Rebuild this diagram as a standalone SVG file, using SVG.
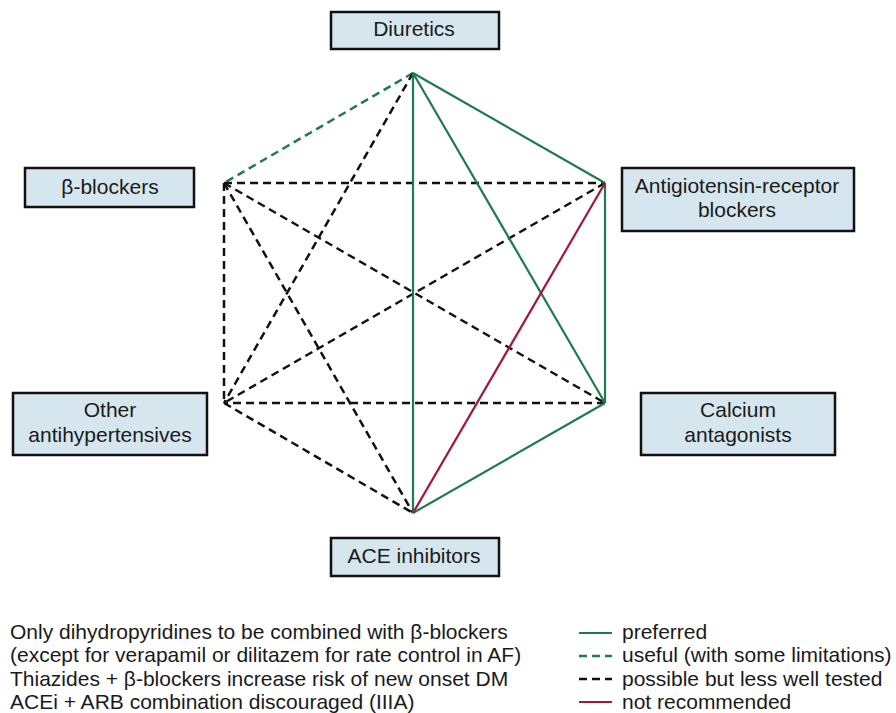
<svg xmlns="http://www.w3.org/2000/svg" width="896" height="713" viewBox="0 0 896 713">
  <style>
    .box { fill: #d5e6ee; stroke: #111; stroke-width: 2.5; }
    .lbl { font-family: "Liberation Sans", Arial, sans-serif; font-size: 21px; fill: #1a1a1a; text-anchor: middle; }
    .note { font-family: "Liberation Sans", Arial, sans-serif; font-size: 21px; fill: #1a1a1a; }
    .pref { stroke: #1f7a4c; stroke-width: 2.2; fill: none; }
    .useful { stroke: #1f7a4c; stroke-width: 2.5; stroke-dasharray: 8 5; fill: none; }
    .poss { stroke: #111; stroke-width: 2.5; stroke-dasharray: 8 5; fill: none; }
    .notrec { stroke: #a0173f; stroke-width: 2.2; fill: none; }
  </style>

  <rect width="896" height="713" fill="#fff"/>

  <!-- connectors between drug classes -->
  <g id="connectors">
    <line class="useful" x1="413" y1="73" x2="224" y2="183"/>
    <line class="poss" x1="413" y1="73" x2="224" y2="403"/>
    <line class="poss" x1="224" y1="183" x2="605" y2="183"/>
    <line class="poss" x1="224" y1="183" x2="605" y2="403"/>
    <line class="poss" x1="224" y1="183" x2="413" y2="513"/>
    <line class="poss" x1="224" y1="183" x2="224" y2="403"/>
    <line class="poss" x1="605" y1="183" x2="224" y2="403"/>
    <line class="poss" x1="605" y1="403" x2="224" y2="403"/>
    <line class="poss" x1="224" y1="403" x2="413" y2="513"/>
    <line class="pref" x1="413" y1="73" x2="605" y2="183"/>
    <line class="pref" x1="413" y1="73" x2="605" y2="403"/>
    <line class="pref" x1="413" y1="73" x2="413" y2="513"/>
    <line class="pref" x1="605" y1="183" x2="605" y2="403"/>
    <line class="pref" x1="605" y1="403" x2="413" y2="513"/>
    <line class="notrec" x1="605" y1="183" x2="413" y2="513"/>
  </g>

  <g id="diuretics">
    <rect class="box" x="331" y="12" width="168" height="37"/>
    <text class="lbl" x="414" y="36">Diuretics</text>
  </g>

  <g id="beta-blockers">
    <rect class="box" x="25" y="168" width="169" height="39"/>
    <text class="lbl" x="110" y="194">β-blockers</text>
  </g>

  <g id="arb">
    <rect class="box" x="622" y="168" width="232" height="63"/>
    <text class="lbl" x="737" y="193">Antigiotensin-receptor</text>
    <text class="lbl" x="737" y="217">blockers</text>
  </g>

  <g id="other">
    <rect class="box" x="13" y="393" width="194" height="62"/>
    <text class="lbl" x="110" y="417">Other</text>
    <text class="lbl" x="110" y="442">antihypertensives</text>
  </g>

  <g id="calcium">
    <rect class="box" x="641" y="393" width="194" height="62"/>
    <text class="lbl" x="738" y="417">Calcium</text>
    <text class="lbl" x="738" y="442">antagonists</text>
  </g>

  <g id="ace">
    <rect class="box" x="331" y="538" width="168" height="38"/>
    <text class="lbl" x="414" y="563">ACE inhibitors</text>
  </g>

  <!-- footnotes -->
  <g id="notes">
    <text class="note" x="10" y="639">Only dihydropyridines to be combined with β-blockers</text>
    <text class="note" x="10" y="662">(except for verapamil or dilitazem for rate control in AF)</text>
    <text class="note" x="10" y="686">Thiazides + β-blockers increase risk of new onset DM</text>
    <text class="note" x="10" y="709">ACEi + ARB combination discouraged (IIIA)</text>
  </g>

  <!-- legend -->
  <g id="legend">
    <line class="pref" x1="579" y1="633" x2="612" y2="633"/>
    <text class="note" x="622" y="639">preferred</text>
    <line class="useful" x1="579" y1="656" x2="612" y2="656" stroke-dasharray="6 5"/>
    <text class="note" x="622" y="662">useful (with some limitations)</text>
    <line class="poss" x1="579" y1="679" x2="612" y2="679" stroke-dasharray="6 5"/>
    <text class="note" x="622" y="686">possible but less well tested</text>
    <line class="notrec" x1="579" y1="702" x2="612" y2="702"/>
    <text class="note" x="622" y="709">not recommended</text>
  </g>
</svg>
